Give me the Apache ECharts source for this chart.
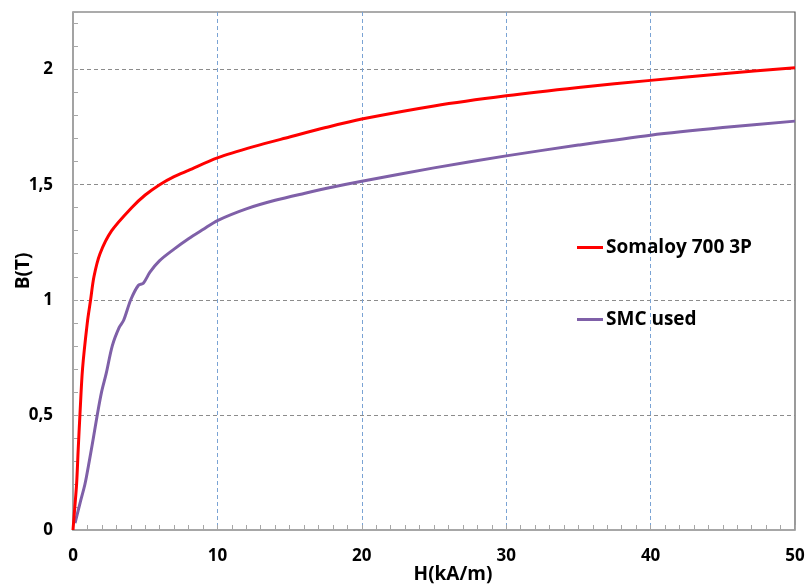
<!DOCTYPE html>
<html>
<head>
<meta charset="utf-8">
<script src="https://cdn.jsdelivr.net/npm/echarts@6/dist/echarts.min.js"></script>
<style>html,body{margin:0;padding:0;background:#fff}#c{width:809px;height:586px}</style>
</head>
<body>
<div id="c"></div>
<script>
const seriesNames = ['Somaloy 700 3P', 'SMC used'];
const somaloyH = [0, 0.1, 0.25, 0.36, 0.48, 0.66, 0.99, 1.22, 1.45, 1.87, 2.68, 4.06, 5, 6, 7, 8, 10, 12.5, 15, 17.5, 20, 25, 30, 35, 40, 45, 50];
const somaloyB = [0, 0.08, 0.2, 0.35, 0.5, 0.7, 0.9, 1.0, 1.1, 1.2, 1.3, 1.4, 1.455, 1.5, 1.535, 1.562, 1.616, 1.665, 1.707, 1.748, 1.785, 1.842, 1.886, 1.922, 1.953, 1.982, 2.008];
const smcH = [0.14, 0.5, 0.83, 1.13, 1.41, 1.68, 1.98, 2.3, 2.72, 3.2, 3.5, 4.0, 4.52, 4.87, 5.33, 6, 7, 8, 9, 10, 12, 14, 16, 18, 20, 25, 30, 35, 40, 45, 50];
const smcB = [0.03, 0.12, 0.2, 0.3, 0.4, 0.5, 0.6, 0.68, 0.8, 0.88, 0.91, 1.0, 1.062, 1.072, 1.12, 1.17, 1.22, 1.265, 1.305, 1.344, 1.395, 1.432, 1.462, 1.49, 1.515, 1.573, 1.625, 1.672, 1.715, 1.748, 1.776];
const xTicks = [0, 10, 20, 30, 40, 50];
const yTicks = ['0', '0,5', '1', '1,5', '2'];

const pair = (xs, ys) => xs.map((x, i) => [x, ys[i]]);
const font = 'Open Sans';
const chart = echarts.init(document.getElementById('c'));
chart.setOption({
  animation: false,
  backgroundColor: '#fff',
  grid: { left: 73, right: 14, top: 12, bottom: 56, show: true, borderColor: '#595959', borderWidth: 1.2, backgroundColor: 'transparent', outerBoundsMode: 'none', containLabel: false },
  legend: {
    orient: 'vertical', left: 577, top: 238, padding: 0, itemWidth: 26, itemHeight: 3, itemGap: 53, icon: 'rect',
    textStyle: { fontFamily: font, fontWeight: 'bold', fontSize: 19, color: '#000', padding: [0, 0, 0, -2] },
    data: seriesNames
  },
  xAxis: [{
    type: 'value', min: 0, max: 50, interval: 10,
    name: 'H(kA/m)', nameLocation: 'middle', nameGap: 35, nameMoveOverlap: false,
    nameTextStyle: { fontFamily: font, fontWeight: 'bold', fontSize: 19, color: '#000', padding: [0, 0, 0, 38] },
    axisLine: { show: true, lineStyle: { color: '#a6a6a6', width: 1.5 } },
    axisTick: { show: true, inside: true, length: 5, lineStyle: { color: '#a6a6a6' } },
    minorTick: { show: true, splitNumber: 10, length: 5, lineStyle: { color: '#a6a6a6' } },
    axisLabel: { margin: 18, fontFamily: font, fontWeight: 'bold', fontSize: 17, color: '#000',
      formatter: v => xTicks.indexOf(v) >= 0 ? String(v) : '' },
    splitLine: { show: true, showMinLine: false, showMaxLine: false, lineStyle: { color: '#7aa3d4', type: [4, 3], width: 1 } }
  }],
  yAxis: [{
    type: 'value', min: 0, max: 2.25, interval: 0.5,
    name: 'B(T)', nameLocation: 'middle', nameGap: 40, nameRotate: 90, nameMoveOverlap: false,
    nameTextStyle: { fontFamily: font, fontWeight: 'bold', fontSize: 19, color: '#000' },
    axisLine: { show: true, lineStyle: { color: '#a6a6a6', width: 1.5 } },
    axisTick: { show: false },
    axisLabel: { margin: 20, fontFamily: font, fontWeight: 'bold', fontSize: 17, color: '#000',
      formatter: v => { const i = Math.round(v / 0.5); return Math.abs(v - i * 0.5) < 1e-9 && i < yTicks.length ? yTicks[i] : ''; } },
    splitLine: { show: true, showMinLine: false, showMaxLine: false, lineStyle: { color: '#8c8c8c', type: [4, 3], width: 1 } }
  }, {
    type: 'value', min: 0, max: 2.25, interval: 0.1, position: 'left',
    axisLine: { show: false },
    axisTick: { show: true, inside: true, length: 5, lineStyle: { color: '#a6a6a6' } },
    axisLabel: { show: false },
    splitLine: { show: false }
  }],
  series: [{
    name: seriesNames[0], type: 'line', data: pair(somaloyH, somaloyB), showSymbol: false,
    smooth: 0.3, lineStyle: { color: '#ff0000', width: 3 }, itemStyle: { color: '#ff0000' }, z: 3
  }, {
    name: seriesNames[1], type: 'line', data: pair(smcH, smcB), showSymbol: false,
    smooth: 0.3, lineStyle: { color: '#7f60a8', width: 3 }, itemStyle: { color: '#7f60a8' }, z: 2
  }]
});
</script>
</body>
</html>
